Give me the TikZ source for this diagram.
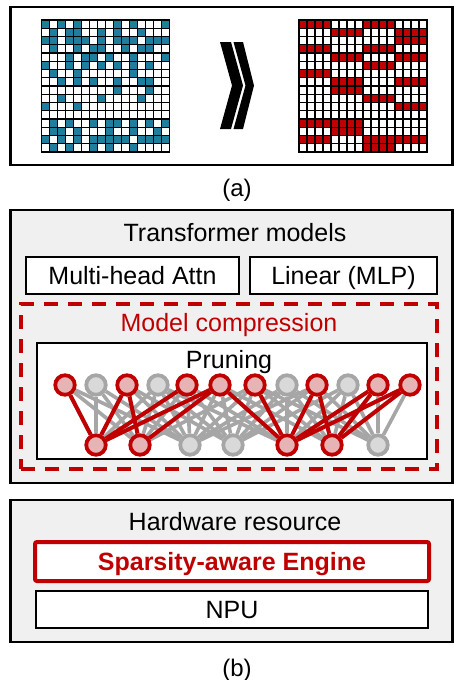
\documentclass[tikz,border=0pt]{standalone}
\usepackage{fontspec}
\setmainfont{Liberation Sans}
\definecolor{tealc}{HTML}{1F7D9E}
\definecolor{dred}{HTML}{C00000}
\definecolor{pinkc}{HTML}{E6B4B4}
\definecolor{gline}{HTML}{A6A6A6}
\definecolor{gfill}{HTML}{D9D9D9}
\definecolor{bgc}{HTML}{F0F0F0}
\pgfdeclarelayer{back}
\pgfdeclarelayer{mid}
\pgfsetlayers{back,mid,main}
\tikzset{
  lbl/.style={font=\fontsize{25}{30}\selectfont, inner sep=0, text height=18, text depth=0},
  wbox/.style={draw=black, line width=2.6, fill=white, inner sep=0},
  gbox/.style={draw=black, line width=2.8, fill=bgc, inner sep=0},
  cell/.style={draw=black, line width=1.2},
  rnode/.style={circle, draw=dred, fill=pinkc, line width=3.8, minimum size=19.5, inner sep=0},
  gnode/.style={circle, draw=gline, fill=gfill, line width=3.8, minimum size=19.5, inner sep=0},
  gedge/.style={draw=gline, line width=3.6},
  redge/.style={draw=dred, line width=4},
}
\begin{document}
\begin{tikzpicture}[x=1pt,y=-1pt]
\useasboundingbox (0,0) rectangle (454,680);

\begin{pgfonlayer}{back}
% (a) frame
\node[wbox, line width=2.8, minimum width=442, minimum height=158] (boxa) at (231.5,86) {};
% (b) frames
\node[gbox, minimum width=442, minimum height=273] (boxb) at (231.5,346.5) {};
\node[gbox, minimum width=442, minimum height=142] (hw) at (231.5,571) {};
\node[wbox, minimum width=390, minimum height=116] (prun) at (232,401) {};
\end{pgfonlayer}

% left grid (sparse)
\foreach \rw [count=\rr from 0] in {
 {1,0,1,0,1,0,0,0,0,1,0,1,0,0,0,1},
 {0,1,0,1,1,0,0,1,0,1,0,0,1,0,0,0},
 {1,1,0,1,1,1,0,1,0,1,1,1,0,1,1,1},
 {0,1,0,0,1,0,1,1,0,0,1,0,1,1,0,0},
 {0,0,0,1,0,1,1,0,1,0,0,1,0,0,0,1},
 {1,0,0,1,0,1,0,1,0,1,0,1,0,1,0,0},
 {0,1,0,0,1,0,0,0,0,0,0,1,0,0,0,0},
 {0,0,1,0,1,0,1,0,0,1,0,0,1,1,0,0},
 {0,0,0,0,0,0,0,0,0,1,0,0,0,1,0,0},
 {0,0,1,0,0,0,0,1,0,0,0,0,1,0,0,0},
 {1,0,0,0,1,0,0,0,0,0,0,0,0,0,0,0},
 {0,0,0,0,0,0,0,0,0,0,0,0,0,0,0,0},
 {0,1,0,1,0,0,1,0,1,1,0,1,0,1,0,1},
 {0,1,1,0,1,0,0,0,1,0,0,1,0,0,1,0},
 {1,0,1,0,1,0,1,1,1,1,1,0,1,1,1,1},
 {0,1,0,1,0,0,1,0,1,0,0,1,0,0,0,0}} {
  \foreach \v [count=\col from 0] in \rw {
    \ifnum\v=1 \def\clr{tealc}\else\def\clr{white}\fi
    \draw[cell, fill=\clr] ({41.7+8*\col},{20+8.25*\rr}) rectangle ++(8,8.25);
  }
}

% right grid (structured)
\foreach \rw [count=\rr from 0] in {
 {1,0,1,0},{0,1,0,1},{0,0,0,1},{1,0,1,0},
 {0,1,0,1},{0,0,1,0},{1,0,0,0},{0,1,0,1},
 {0,1,0,0},{0,0,1,0},{0,0,0,1},{0,0,0,0},
 {1,1,0,0},{0,1,0,0},{1,0,1,1},{0,0,1,0}} {
  \foreach \v [count=\gg from 0] in \rw {
    \ifnum\v=1 \def\clr{dred}\else\def\clr{white}\fi
    \foreach \jj in {0,1,2,3} {
      \draw[cell, fill=\clr] ({299+8*(4*\gg+\jj)},{20+8.25*\rr}) rectangle ++(8,8.25);
    }
  }
}

% double chevron
\fill[black] (220,42) -- (231,42) -- (243,85.5) -- (231,129) -- (220,129) -- (232,85.5) -- cycle;
\fill[black] (233.5,42) -- (243,42) -- (254,85.5) -- (243,129) -- (233.5,129) -- (245.5,85.5) -- cycle;

\node[lbl, font=\fontsize{24}{28}\selectfont] (capa) at (237,187) {(a)};

% (b)
\node[lbl] (tm) at (235,232) {Transformer models};
\node[wbox, lbl, minimum width=213, minimum height=37] (mha) at (132.5,275.5) {Multi-head Attn};
\node[wbox, lbl, minimum width=187, minimum height=37] (mlp) at (343.5,275.5) {Linear (MLP)};
\node[draw=dred, line width=3.5, dash pattern=on 14pt off 10pt, minimum width=416, minimum height=165, inner sep=0] (mc) at (229,386.5) {};
\node[lbl, text=dred] (mct) at (229,322) {Model compression};
\node[lbl] (prt) at (229,359) {Pruning};

% network nodes
\foreach \x/\s [count=\i] in {65/rnode,96/gnode,127/rnode,158/gnode,187/rnode,220/rnode,255/rnode,287/gnode,317/rnode,348/gnode,378/rnode,410/rnode}
  \node[\s] (t\i) at (\x,385) {};
\foreach \x/\s [count=\i] in {96/rnode,140/rnode,190/gnode,233/gnode,287/rnode,332/rnode,378/gnode}
  \node[\s] (b\i) at (\x,445) {};

\begin{pgfonlayer}{mid}
\foreach \bx [count=\i] in {96,140,190,233,287,332,378} {
  \foreach \tx [count=\j] in {65,96,127,158,187,220,255,287,317,348,378,410} {
    \pgfmathtruncatemacro\ok{abs(\bx-\tx)<130 ? 1 : 0}
    \ifnum\ok=1 \draw[gedge] (b\i) -- (t\j);\fi
  }
}
\foreach \i/\j in {1/1,1/3,1/5,1/6,2/3,2/6,5/6,5/7,5/9,5/11,5/12,6/9,6/11,6/12}
  \draw[redge] (b\i) -- (t\j);
\end{pgfonlayer}

% hardware
\node[lbl] (hwt) at (235,521) {Hardware resource};
\node[draw=dred, line width=4, fill=white, rounded corners=2, minimum width=394, minimum height=39, lbl, text=dred, font=\fontsize{25}{30}\selectfont\bfseries] (sae) at (232,561.5) {Sparsity-aware Engine};
\node[wbox, lbl, minimum width=392, minimum height=37] (npu) at (232,609.5) {NPU};
\node[lbl, font=\fontsize{24}{28}\selectfont] (capb) at (237,667) {(b)};
\end{tikzpicture}
\end{document}
